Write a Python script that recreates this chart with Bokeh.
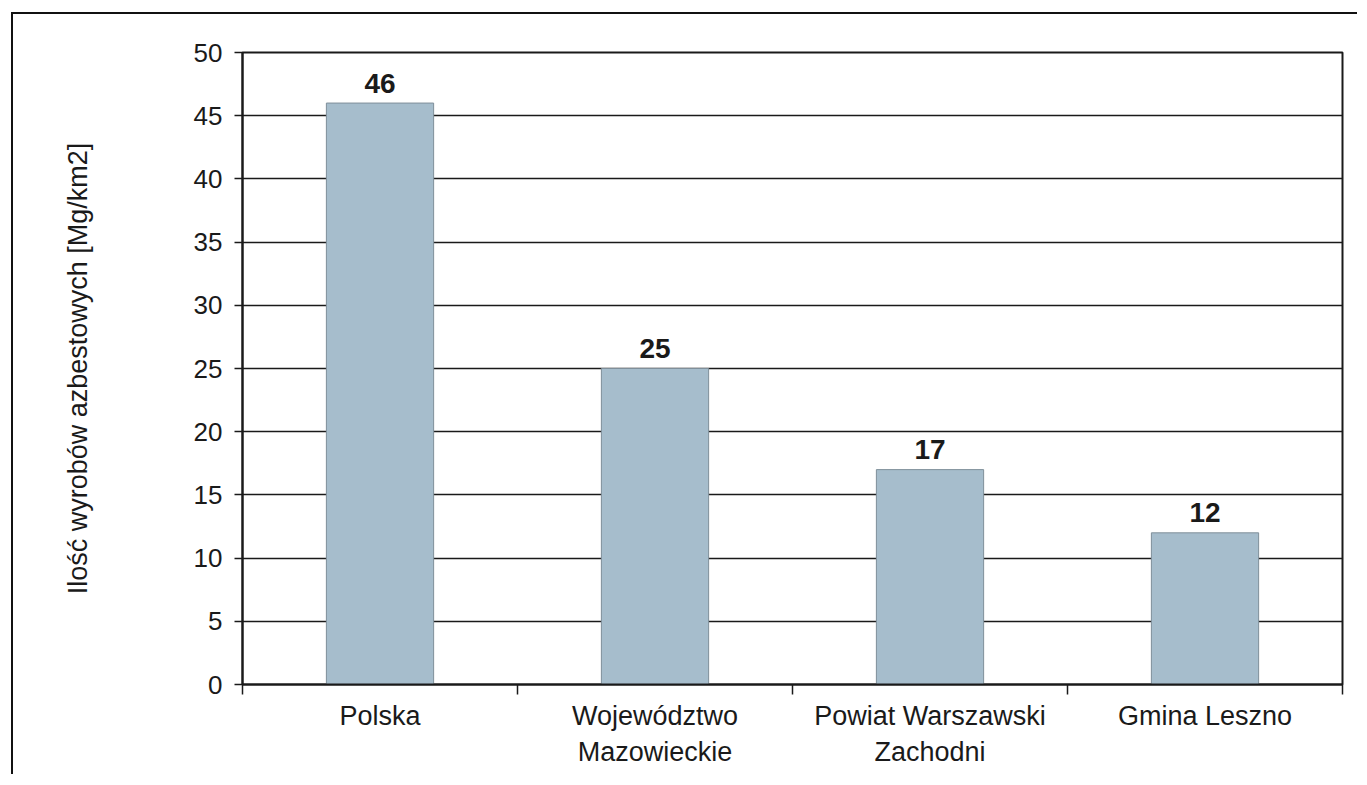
from bokeh.plotting import figure
from bokeh.models import Range1d, FixedTicker, ColumnDataSource
from bokeh.core.properties import value
from bokeh.embed import file_html
from bokeh.resources import INLINE

categories = ["Polska", "Województwo\nMazowieckie", "Powiat Warszawski\nZachodni", "Gmina Leszno"]
values = [46, 25, 17, 12]
value_labels = ["46", "25", "17", "12"]
y_ticks = [0, 5, 10, 15, 20, 25, 30, 35, 40, 45, 50]

FONT = "Liberation Sans"
INK = "#1a1a1a"

n = len(categories)
centers = [i + 0.5 for i in range(n)]
edges = list(range(n + 1))

src = ColumnDataSource(dict(x=centers, val=values, lab=value_labels))

p = figure(width=1346, height=762, output_backend="svg", toolbar_location=None,
           x_range=Range1d(0, n), y_range=Range1d(0, 50),
           min_border_left=229, min_border_top=38,
           min_border_right=17, min_border_bottom=92)
p.styles = {"margin-left": "11px", "margin-top": "12px",
            "border-left": "2px solid #111", "border-top": "2px solid #111"}

p.outline_line_color = INK
p.outline_line_width = 2
p.background_fill_color = "white"
p.border_fill_color = "white"

# bars
p.vbar(x="x", top="val", width=0.39, source=src, fill_color="#a6bdcc",
       line_color="#7f8f9a", line_width=1)
p.text(x="x", y="val", text="lab", source=src, text_align="center",
       text_baseline="alphabetic", y_offset=-20, text_font=value(FONT),
       text_font_size="28px", text_font_style="bold", text_color=INK)

# y axis
ya = p.yaxis[0]
ya.ticker = FixedTicker(ticks=y_ticks)
ya.axis_line_color = INK
ya.axis_line_width = 2
ya.major_tick_line_color = INK
ya.major_tick_line_width = 1.5
ya.major_tick_out = 8
ya.major_tick_in = 0
ya.minor_tick_line_color = None
ya.major_label_text_font = FONT
ya.major_label_text_font_size = "26px"
ya.major_label_text_color = INK
ya.major_label_standoff = 12
ya.axis_label = "Ilość wyrobów azbestowych [Mg/km2]"
ya.axis_label_text_font = FONT
ya.axis_label_text_font_size = "27px"
ya.axis_label_text_font_style = "normal"
ya.axis_label_text_color = INK
ya.axis_label_standoff = 98

p.xgrid.grid_line_color = None
p.ygrid.ticker = FixedTicker(ticks=y_ticks)
p.ygrid.grid_line_color = INK
p.ygrid.grid_line_width = 1.5

# x axis: labels at category centres, tick marks between categories
xa = p.xaxis[0]
xa.ticker = FixedTicker(ticks=centers, minor_ticks=edges)
xa.major_label_overrides = {c: lab for c, lab in zip(centers, categories)}
xa.axis_line_color = INK
xa.axis_line_width = 2
xa.major_tick_line_color = None
xa.minor_tick_line_color = INK
xa.minor_tick_line_width = 1.5
xa.minor_tick_out = 10
xa.minor_tick_in = 0
xa.major_tick_out = 10
xa.major_tick_in = 0
xa.major_label_text_font = FONT
xa.major_label_text_font_size = "27px"
xa.major_label_text_color = INK
xa.major_label_standoff = 6

open("out.html", "w").write(file_html(p, INLINE))
